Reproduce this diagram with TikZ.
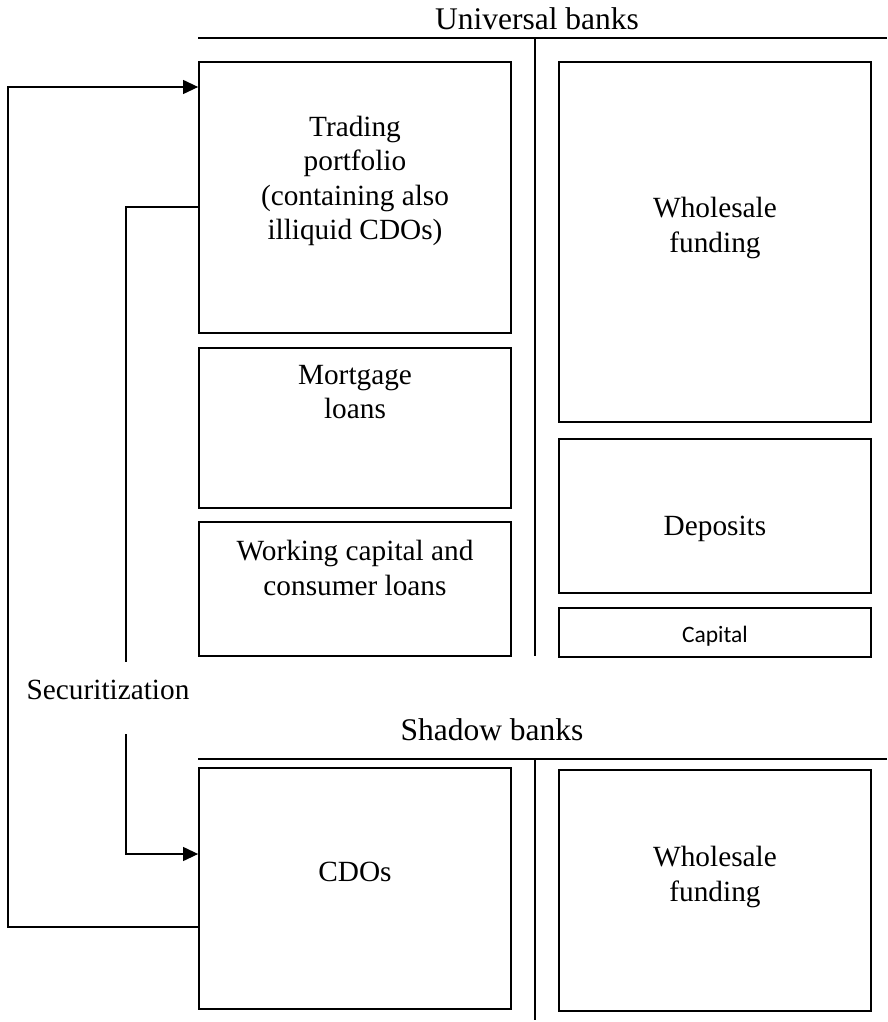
\documentclass[tikz,border=0pt]{standalone}
\usepackage{fontspec}
\setmainfont{Liberation Serif}
\newfontfamily\capfont{Carlito}
\usetikzlibrary{arrows.meta}

\tikzset{
  box/.style={draw, line width=1.8pt, inner sep=0pt, minimum width=312pt},
  txt/.style={align=center, inner sep=0pt, font=\fontsize{29.3}{34.5}\selectfont},
  head/.style={inner sep=0pt, font=\fontsize{31.5}{36}\selectfont},
  arr/.style={-{Triangle[length=15pt,width=14pt]}}
}

\begin{document}
\begin{tikzpicture}[x=1pt,y=-1pt,line width=1.2pt]
    \useasboundingbox (0,0) rectangle (887,1022);
    % universal banks
    \node[head] (ubanks) at (537,19) {Universal banks};
    \draw (198,38) -- (887,38); % top line
    \draw (535,38) -- (535,656); % divider
    \node[box, minimum height=271pt] (trading) at (355,197.5) {};
    \node[box, minimum height=160pt] (mortgage) at (355,428) {};
    \node[box, minimum height=134pt] (working) at (355,589) {};
    \node[box, minimum height=360pt] (wholesaleU) at (715,242) {};
    \node[box, minimum height=154pt] (deposits) at (715,516) {};
    \node[box, minimum height=49pt] (capital) at (715,632.5) {};
    \node[txt] (tradingtxt) at ([yshift=16.5pt]trading.center) {Trading\\portfolio\\(containing also\\illiquid CDOs)};
    \node[txt] (mortgagetxt) at ([yshift=36pt]mortgage.center) {Mortgage\\loans};
    \node[txt] (workingtxt) at ([yshift=21pt]working.center) {Working capital and\\consumer loans};
    \node[txt] (wholesaleUtxt) at ([yshift=14pt]wholesaleU.center) {Wholesale\\funding};
    \node[txt] (depositstxt) at ([yshift=-13pt]deposits.center) {Deposits};
    \node[inner sep=0pt, font=\capfont\fontsize{23.5}{28}\selectfont] (capitaltxt) at ([yshift=-3.5pt]capital.center) {Capital};
    % shadow banks
    \node[head] (sbanks) at (492,730) {Shadow banks};
    \draw (198,759) -- (887,759); % top line
    \draw (535,759) -- (535,1020); % divider
    \node[box, minimum height=241pt] (cdos) at (355,888.5) {};
    \node[box, minimum height=241pt] (wholesaleS) at (715,890.5) {};
    \node[txt] (cdostxt) at ([yshift=16.5pt]cdos.center) {CDOs};
    \node[txt] (wholesaleStxt) at ([yshift=13.5pt]wholesaleS.center) {Wholesale\\funding};
    % securitization loop
    \node[txt] (secur) at (108,690) {Securitization};
    \draw (trading.west |- 0,207) -| (126,662); % down to label
    \draw[arr] (126,734) |- (cdos.west |- 0,854); % into CDOs
    \draw[arr] (cdos.west |- 0,927) -| (8,87) -- (trading.west |- 0,87); % back to trading
  \end{tikzpicture}
\end{document}
